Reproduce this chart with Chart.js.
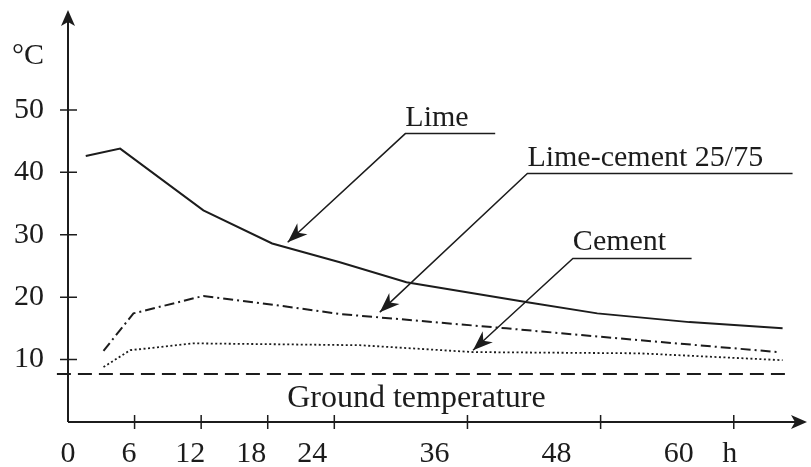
<!DOCTYPE html>
<html>
<head>
<meta charset="utf-8">
<title>Hydration temperature</title>
<script src="https://cdn.jsdelivr.net/npm/chart.js@4/dist/chart.umd.min.js"></script>
<style>
    html, body { margin: 0; padding: 0; background: #fff; }
    #wrap { width: 811px; height: 467px; }
</style>
</head>
<body>
<div id="wrap"><canvas id="chart-hydration" width="811" height="467"></canvas></div>
<script>
// Temperature (°C) against time (h) for three binders
const limeHours = [1.6, 4.7, 12.2, 18.4, 24.5, 30.5, 41.4, 47.7, 56.0, 64.4];
const limeTemps = [42.6, 43.8, 33.9, 28.6, 25.6, 22.4, 19.2, 17.4, 16.0, 15.0];

const mixHours = [3.2, 5.9, 12.2, 18.8, 24.5, 39.5, 51.5, 64.0];
const mixTemps = [11.4, 17.4, 20.2, 18.7, 17.3, 15.0, 13.1, 11.2];

const cementHours = [3.2, 5.6, 11.3, 26.3, 36.5, 51.5, 64.4];
const cementTemps = [8.8, 11.5, 12.6, 12.3, 11.2, 11.0, 9.9];

const groundHours = [-1.0, 64.9];
const groundTemps = [7.7, 7.7];

// axis ticks
const xTickHours = [6, 12, 18, 24, 36, 48, 60];
const xLabelValues = [0, 6, 12, 18, 24, 36, 48, 60, 65];
const xLabelTexts = ['0', '6', '12', '18', '24', '36', '48', '60', 'h'];
const yTickValues = [10, 20, 30, 40, 50];
const yLabelValues = [10, 20, 30, 40, 50, 58.6];
const yLabelTexts = ['10', '20', '30', '40', '50', '°C'];

// callouts: name, arrow tip [h, °C], shelf [h start, h end, °C]
const calloutNames = ['Lime', 'Lime-cement 25/75', 'Cement'];
const calloutTips = [[19.8, 28.8], [28.1, 17.6], [36.5, 11.5]];
const calloutShelves = [[30.4, 38.5, 46.2], [41.4, 65.3, 39.8], [45.5, 56.2, 26.2]];
const groundLabel = 'Ground temperature';
const groundLabelAt = [31.4, 2.4];

const INK = '#1c1c1c';
const FONT = '"Liberation Serif", "Times New Roman", serif';

const toPoints = (xs, ys) => xs.map((x, i) => ({ x: x, y: ys[i] }));

function arrowHead(ctx, fromX, fromY, tipX, tipY, len, half, notch) {
    const dx = tipX - fromX, dy = tipY - fromY;
    const d = Math.hypot(dx, dy);
    const ux = dx / d, uy = dy / d;
    const nx = -uy, ny = ux;
    const bx = tipX - ux * len, by = tipY - uy * len;
    const mx = tipX - ux * (len - notch), my = tipY - uy * (len - notch);
    ctx.beginPath();
    ctx.moveTo(tipX, tipY);
    ctx.lineTo(bx + nx * half, by + ny * half);
    ctx.lineTo(mx, my);
    ctx.lineTo(bx - nx * half, by - ny * half);
    ctx.closePath();
    ctx.fill();
}

// axes with arrows, crossing ticks and the labelled callouts
const sketchPlugin = {
    id: 'sketch',
    afterDatasetsDraw(chart) {
        const ctx = chart.ctx;
        const xs = chart.scales.x, ys = chart.scales.y;
        const px = v => xs.getPixelForValue(v);
        const py = v => ys.getPixelForValue(v);
        const ox = px(0), oy = py(0);
        const top = py(ys.max), right = px(xs.max);

        ctx.save();
        ctx.strokeStyle = INK;
        ctx.fillStyle = INK;
        ctx.lineCap = 'butt';

        // axis lines
        ctx.lineWidth = 2;
        ctx.beginPath();
        ctx.moveTo(ox, oy);
        ctx.lineTo(ox, top + 8);
        ctx.moveTo(ox, oy);
        ctx.lineTo(right - 8, oy);
        ctx.stroke();
        arrowHead(ctx, ox, oy, ox, top, 16, 7, 4);
        arrowHead(ctx, ox, oy, right, oy, 16, 7, 4);

        // tick crosses
        ctx.lineWidth = 1.5;
        ctx.beginPath();
        xTickHours.forEach(h => {
            ctx.moveTo(px(h), oy - 7);
            ctx.lineTo(px(h), oy + 7);
        });
        yTickValues.forEach(t => {
            ctx.moveTo(ox - 8, py(t));
            ctx.lineTo(ox + 9, py(t));
        });
        ctx.stroke();

        // callouts
        ctx.font = '30px ' + FONT;
        ctx.textAlign = 'left';
        ctx.textBaseline = 'alphabetic';
        calloutNames.forEach((name, i) => {
            const [h0, h1, t] = calloutShelves[i];
            const [th, tt] = calloutTips[i];
            const sx = px(h0), sy = py(t);
            ctx.lineWidth = 1.5;
            ctx.beginPath();
            ctx.moveTo(px(h1), sy);
            ctx.lineTo(sx, sy);
            ctx.lineTo(px(th), py(tt));
            ctx.stroke();
            arrowHead(ctx, sx, sy, px(th), py(tt), 20, 7.5, 6);
            ctx.fillText(name, sx, sy - 8);
        });

        ctx.font = '32px ' + FONT;
        ctx.textAlign = 'center';
        ctx.fillText(groundLabel, px(groundLabelAt[0]), py(groundLabelAt[1]));
        ctx.restore();
    }
};

const lineStyle = {
    borderColor: INK,
    backgroundColor: INK,
    pointRadius: 0,
    tension: 0,
    fill: false
};

const ctx = document.getElementById('chart-hydration').getContext('2d');
new Chart(ctx, {
    type: 'line',
    data: {
        datasets: [
            { ...lineStyle, label: 'Lime', data: toPoints(limeHours, limeTemps), borderWidth: 2 },
            { ...lineStyle, label: 'Lime-cement 25/75', data: toPoints(mixHours, mixTemps), borderWidth: 2, borderDash: [10, 4, 2, 4] },
            { ...lineStyle, label: 'Cement', data: toPoints(cementHours, cementTemps), borderWidth: 1.8, borderDash: [2, 2.5] },
            { ...lineStyle, label: 'Ground temperature', data: toPoints(groundHours, groundTemps), borderWidth: 2, borderDash: [14, 7], clip: false }
        ]
    },
    options: {
        responsive: false,
        devicePixelRatio: 1,
        animation: false,
        layout: { padding: { top: 10, right: 4, left: 0, bottom: 0 } },
        plugins: {
            legend: { display: false },
            tooltip: { enabled: false }
        },
        scales: {
            x: { type: 'linear', min: 0, max: 66.6, display: false },
            xl: {
                type: 'linear',
                position: 'bottom',
                min: 0,
                max: 72.6,
                grid: { display: false, drawTicks: false },
                border: { display: false },
                afterBuildTicks: s => { s.ticks = xLabelValues.map(v => ({ value: v })); },
                afterFit: s => {
                    s.height = 45;
                    s.paddingLeft = 0;
                    s.paddingRight = 0;
                },
                ticks: {
                    color: INK,
                    font: { family: FONT, size: 30 },
                    padding: 14,
                    maxRotation: 0,
                    autoSkip: false,
                    callback: (v, i) => xLabelTexts[i]
                }
            },
            y: {
                type: 'linear',
                min: 0,
                max: 66,
                grid: { display: false, drawTicks: false },
                border: { display: false },
                afterBuildTicks: s => { s.ticks = yLabelValues.map(v => ({ value: v })); },
                afterFit: s => {
                    s.width = 68;
                    s.paddingTop = 0;
                    s.paddingBottom = 0;
                },
                ticks: {
                    color: INK,
                    font: { family: FONT, size: 30 },
                    padding: 24,
                    autoSkip: false,
                    callback: (v, i) => yLabelTexts[i]
                }
            }
        }
    },
    plugins: [sketchPlugin]
});
</script>
</body>
</html>
